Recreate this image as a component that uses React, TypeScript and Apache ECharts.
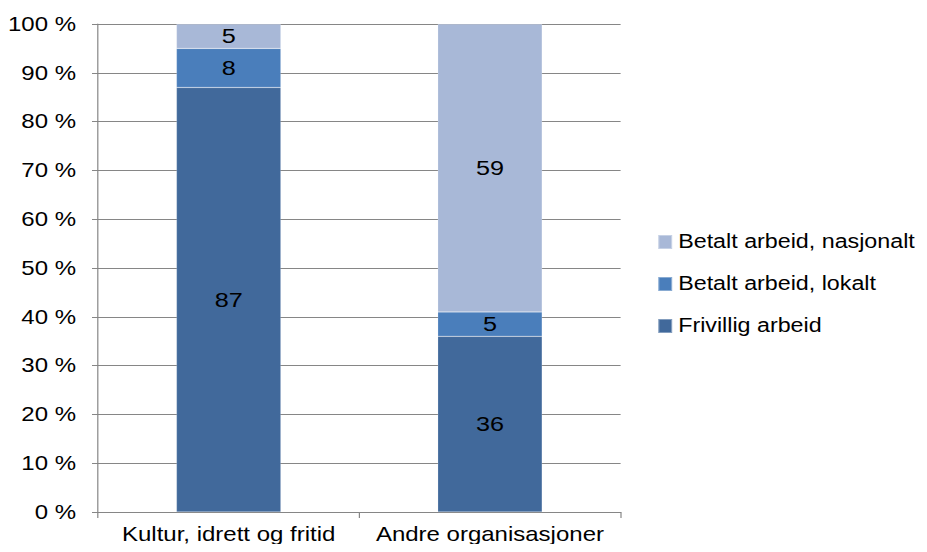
import React, { useEffect, useRef } from "react";
import * as echarts from "echarts";

const categories = ["Kultur, idrett og fritid", "Andre organisasjoner"];
const frivillig = [87, 36];
const lokalt = [8, 5];
const nasjonalt = [5, 59];
const seriesNames = ["Frivillig arbeid", "Betalt arbeid, lokalt", "Betalt arbeid, nasjonalt"];
const legendOrder = ["Betalt arbeid, nasjonalt", "Betalt arbeid, lokalt", "Frivillig arbeid"];

const colors = ["#41699B", "#4A7EBB", "#A8B8D7"];
const FONT = "Liberation Sans, Arial, sans-serif";
const SX = 1.2; // horizontal stretch of the reference rendering
const W = 927 / SX;

export default function App() {
  const ref = useRef<HTMLDivElement>(null);
  useEffect(() => {
    if (!ref.current) return;
    const chart = echarts.init(ref.current, undefined, { renderer: "svg" });
    const data = [frivillig, lokalt, nasjonalt];
    chart.setOption({
      animation: false,
      textStyle: { fontFamily: FONT },
      grid: { left: 98 / SX, right: 307 / SX, top: 24, bottom: 40, containLabel: false },
      legend: {
        orient: "vertical",
        left: 657 / SX,
        top: 232,
        padding: 0,
        itemWidth: 14 / SX,
        itemHeight: 14,
        itemGap: 22,
        icon: "rect",
        data: legendOrder,
        textStyle: { fontSize: 19.4, lineHeight: 20, color: "#000", fontFamily: FONT },
      },
      xAxis: {
        type: "category",
        data: categories,
        axisLine: { lineStyle: { color: "#868686", width: 1 } },
        axisTick: { show: true, length: 6, alignWithLabel: false, lineStyle: { color: "#868686" } },
        axisLabel: { fontSize: 20, color: "#000", margin: 12, interval: 0, fontFamily: FONT },
      },
      yAxis: {
        type: "value",
        min: 0,
        max: 100,
        interval: 10,
        axisLine: { show: true, lineStyle: { color: "#868686", width: 1 } },
        axisTick: { show: true, length: 6 / SX, lineStyle: { color: "#868686" } },
        splitLine: { lineStyle: { color: "#868686", width: 1 } },
        axisLabel: { fontSize: 20, color: "#000", margin: 22 / SX, formatter: "{value} %", fontFamily: FONT },
      },
      series: seriesNames.map((name, i) => ({
        name,
        type: "bar",
        stack: "total",
        barWidth: "40%",
        data: data[i],
        itemStyle: { color: colors[i], borderColor: "rgba(255,255,255,0.35)", borderWidth: 0.5 },
        label: { show: true, position: "inside", fontSize: 21, color: "#000", fontFamily: FONT },
      })),
    });
    return () => chart.dispose();
  }, []);
  return (
    <div style={{ width: 927, height: 552, margin: -8, overflow: "hidden", position: "relative" }}>
      <div
        ref={ref}
        style={{ width: W, height: 552, transform: `scaleX(${SX})`, transformOrigin: "0 0" }}
      />
    </div>
  );
}
